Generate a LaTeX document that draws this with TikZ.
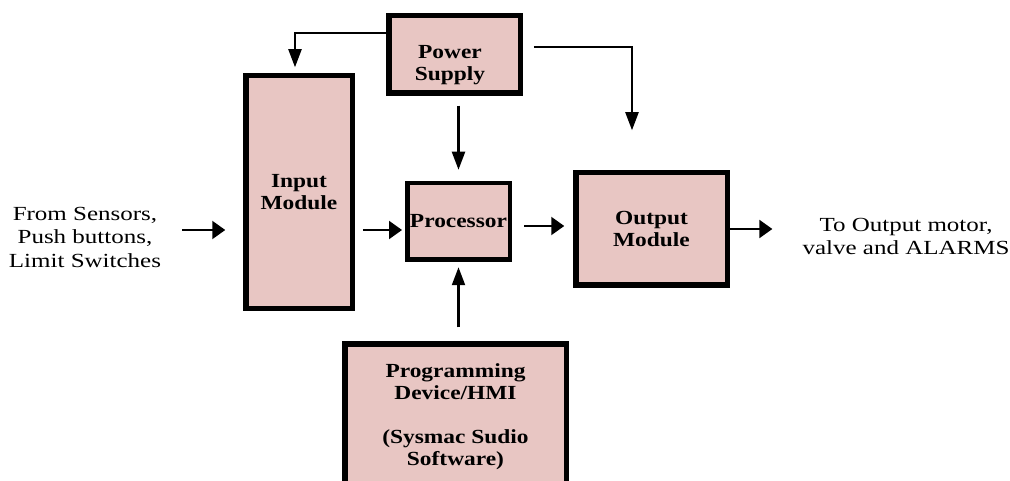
\documentclass[tikz,border=0pt]{standalone}
\usepackage{fontspec}
\newfontfamily\txtfont{Liberation Serif}[FakeStretch=1.25]
\newfontfamily\boxfont{Liberation Serif}[FakeStretch=1.17]
\usetikzlibrary{arrows.meta}
\definecolor{boxpink}{RGB}{232,198,195}
\begin{document}
\begin{tikzpicture}[x=1pt,y=1pt,line cap=butt,line join=miter]
            \tikzset{blk/.style={draw,line width=5.5pt,fill=boxpink,inner sep=0pt,align=center,
                font=\boxfont\bfseries\fontsize{20}{22.5}\selectfont},
            lbl/.style={inner sep=0pt,align=center,font=\txtfont\fontsize{20}{23.5}\selectfont},
            harr/.style={line width=2.2pt,-{Triangle[length=13pt,width=18pt]}},
            varr/.style={line width=2.2pt,-{Triangle[length=18pt,width=13pt]}}}
            \useasboundingbox (0,0) rectangle (1010,480);
            \clip (0,0) rectangle (1010,480);
            \node[blk,minimum width=106.5pt,minimum height=232.5pt] (inp) at (299,288) {Input\\Module};
            \node[blk,minimum width=131.5pt,minimum height=77.5pt] (pwr) at (454.5,425.5) {};
            \node[blk,draw=none,fill=none] (pwrtxt) at (450,415) {Power\\Supply};
            \node[blk,line width=4.5pt,minimum width=102.5pt,minimum height=76.5pt] (proc) at (458.5,258.5) {Processor};
            \node[blk,minimum width=151.5pt,minimum height=112.5pt] (out) at (651.5,251) {Output\\Module};
            \node[blk,minimum width=221.5pt,minimum height=145.5pt] (prog) at (455.5,63.5)
            {Programming\\Device/HMI\\[21pt](Sysmac Sudio\\Software)};
            \node[lbl] (src) at (85,243) {From Sensors,\\Push buttons,\\Limit Switches};
            \node[lbl] (dst) at (906,243.5) {To Output motor,\\valve and ALARMS};
            \draw[harr,shorten <=21pt,shorten >=17.75pt] ([yshift=7pt]src.east) -- ([yshift=7pt]src.east -| inp.west);
            \draw[harr,shorten <=7.75pt,shorten >=3pt] ([yshift=-38pt]inp.east) -- ([yshift=-38pt]inp.east -| proc.west);
            \draw[harr,shorten <=12pt,shorten >=8.75pt] ([yshift=-4.5pt]proc.east) -- ([yshift=-4.5pt]proc.east -| out.west);
            \draw[harr,shorten >=30pt] (out.east) -- (out.east -| dst.west);
            \draw[varr,shorten >=5.75pt] ([yshift=21.5pt]pwr.west) -| ([xshift=-4pt]inp.north);
            \draw[varr,shorten <=10.75pt,shorten >=39.75pt] ([yshift=7.5pt]pwr.east) -| ([xshift=-19.5pt]out.north);
            \draw[varr,shorten <=9.75pt,shorten >=11.25pt] (proc.north |- pwr.south) -- (proc.north);
            \draw[varr,shorten <=13.75pt,shorten >=5.25pt] (proc.south |- prog.north) -- (proc.south);
    \end{tikzpicture}
\end{document}
